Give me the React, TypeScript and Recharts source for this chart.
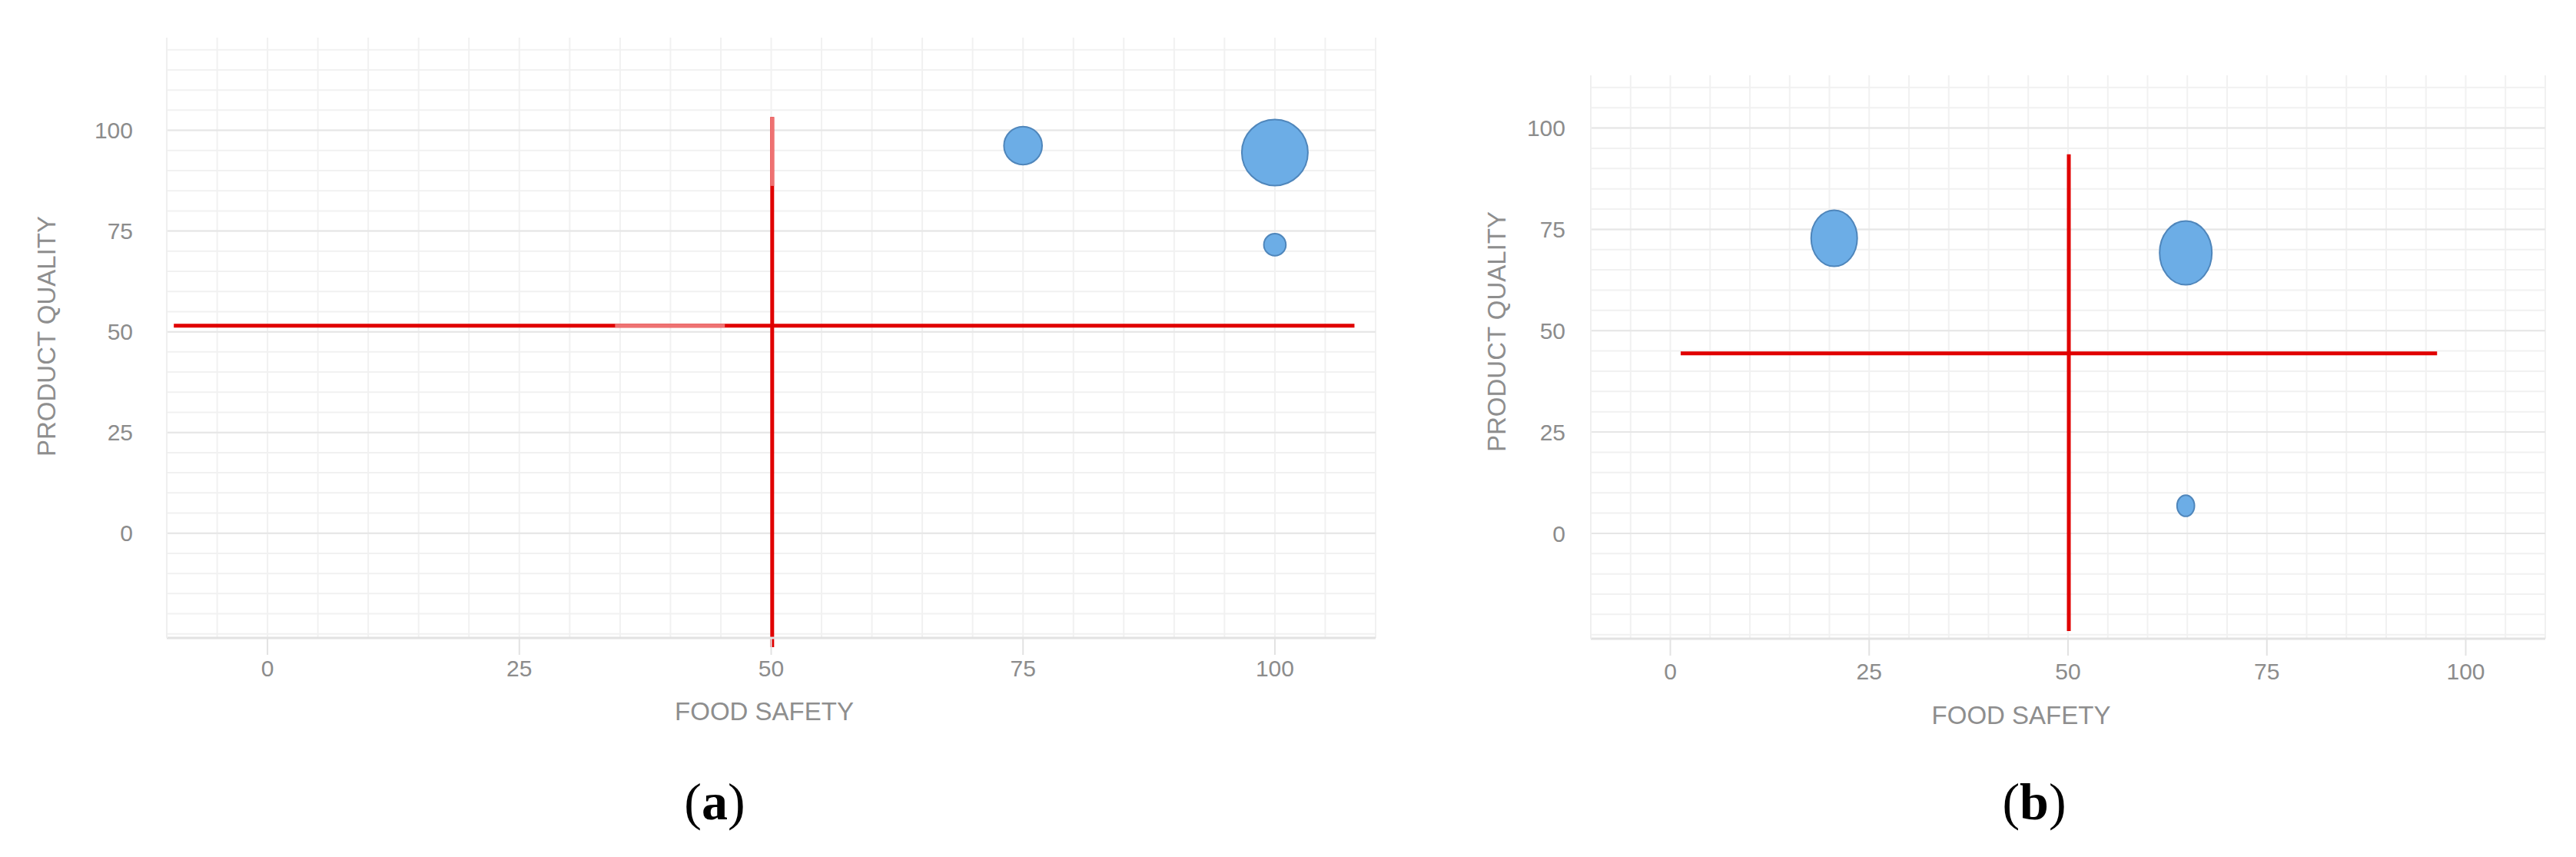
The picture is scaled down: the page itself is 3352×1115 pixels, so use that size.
import React from 'react';
import {
  ScatterChart, Scatter, XAxis, YAxis, ZAxis, CartesianGrid, ReferenceLine, Label,
} from 'recharts';

// ---------- data ----------
const xTicks = [0, 25, 50, 75, 100];
const yTicks = [0, 25, 50, 75, 100];
const xGridMinor = [-10, -5, 0, 5, 10, 15, 20, 25, 30, 35, 40, 45, 50, 55, 60, 65, 70, 75, 80, 85, 90, 95, 100, 105, 110];
const yGridMinorA = [-25, -20, -15, -10, -5, 0, 5, 10, 15, 20, 25, 30, 35, 40, 45, 50, 55, 60, 65, 70, 75, 80, 85, 90, 95, 100, 105, 110, 115, 120];
const yGridMinorB = [-25, -20, -15, -10, -5, 0, 5, 10, 15, 20, 25, 30, 35, 40, 45, 50, 55, 60, 65, 70, 75, 80, 85, 90, 95, 100, 105, 110];
const gridMajor = [0, 25, 50, 75, 100];

// panel (a)
const foodSafetyA = [75, 100, 100];
const qualityA = [96.2, 94.5, 71.6];
const sizeA = [3, 9, 1];
const yDomainA = [-26, 123];
// quadrant lines (a): [x cut, y cut], horizontal extent, vertical extent
const cutA = [50.1, 51.5];
const hSpanA = [-9.3, 107.9];
const vSpanA = [-28.3, 103.3];
const hLightA = [34.5, 45.4];
const vLightA = [86.2, 103.3];

// panel (b)
const foodSafetyB = [20.6, 64.8, 64.8];
const qualityB = [72.8, 69.2, 6.8];
const sizeB = [7, 9, 1];
const yDomainB = [-26, 113];
const cutB = [50.1, 44.4];
const hSpanB = [1.3, 96.4];
const vSpanB = [-24.1, 93.5];

const xDomain = [-10, 110];

const xTitle = 'FOOD SAFETY';
const yTitle = 'PRODUCT QUALITY';

// ---------- styles ----------
const FONT = 'Liberation Sans, Arial, sans-serif';
const TICK_COLOR = '#8c8c8c';
const TITLE_COLOR = '#8e8e8e';
const RED = '#e00000';
const LIGHT_RED = '#ee7272';
const BUBBLE_FILL = '#6cade6';
const BUBBLE_STROKE = '#4f86bb';

const makeBubble = (aspect: number) => (props: any) => {
  const { cx, cy } = props;
  const r = props.width ? props.width / 2 : Math.sqrt(Math.max(props.size || 0, 0) / Math.PI);
  return (
    <ellipse cx={cx} cy={cy} rx={r} ry={r * aspect} fill={BUBBLE_FILL} stroke={BUBBLE_STROKE} strokeWidth={2} />
  );
};

type PanelProps = {
  left: number;
  width: number;
  height: number;
  margin: { top: number; right: number; bottom: number; left: number };
  yAxisWidth: number;
  yTickMargin: number;
  xTickMargin: number;
  yDomain: number[];
  yGridMinor: number[];
  xs: number[];
  ys: number[];
  zs: number[];
  maxRadius: number;
  aspect: number;
  cut: number[];
  hSpan: number[];
  vSpan: number[];
  hLight?: number[];
  vLight?: number[];
  yTitleX: number;
  yTitleDy: number;
  xTitleDx: number;
  xTitleY: number;
};

function Panel(p: PanelProps) {
  const data = p.xs.map((x, i) => ({ x, y: p.ys[i], z: p.zs[i] }));
  return (
    <div style={{ position: 'absolute', left: p.left, top: 0 }}>
      <ScatterChart width={p.width} height={p.height} margin={p.margin}>
        <CartesianGrid
          horizontalValues={p.yGridMinor}
          verticalValues={xGridMinor}
          stroke="#f1f1f1"
          strokeWidth={2}
        />
        <CartesianGrid
          horizontalValues={gridMajor}
          verticalValues={gridMajor}
          stroke="#e6e6e6"
          strokeWidth={2}
          vertical={false}
        />
        <XAxis
          type="number"
          dataKey="x"
          domain={xDomain}
          ticks={xTicks}
          allowDataOverflow
          height={60}
          tickSize={22}
          tickMargin={p.xTickMargin}
          tickLine={{ stroke: '#e2e2e2', strokeWidth: 2 }}
          axisLine={{ stroke: '#e2e2e2', strokeWidth: 3 }}
          tick={{ fill: TICK_COLOR, fontSize: 30, fontFamily: FONT }}
        >
          <Label
            content={(lp: any) => {
              const vb = lp.viewBox;
              return (
                <text
                  x={vb.x + vb.width / 2 + p.xTitleDx}
                  y={p.xTitleY}
                  textAnchor="middle"
                  dominantBaseline="central"
                  fill={TITLE_COLOR}
                  fontSize={33}
                  fontFamily={FONT}
                >
                  {xTitle}
                </text>
              );
            }}
          />
        </XAxis>
        <YAxis
          type="number"
          dataKey="y"
          domain={p.yDomain}
          ticks={yTicks}
          allowDataOverflow
          width={p.yAxisWidth}
          tickSize={0}
          tickMargin={p.yTickMargin}
          tickLine={false}
          axisLine={{ stroke: '#efefef', strokeWidth: 2 }}
          tick={{ fill: TICK_COLOR, fontSize: 30, fontFamily: FONT }}
        >
          <Label
            content={(lp: any) => {
              const vb = lp.viewBox;
              const cx = p.yTitleX;
              const cy = vb.y + vb.height / 2 + p.yTitleDy;
              return (
                <text
                  x={cx}
                  y={cy}
                  transform={`rotate(-90, ${cx}, ${cy})`}
                  textAnchor="middle"
                  dominantBaseline="central"
                  fill={TITLE_COLOR}
                  fontSize={33}
                  fontFamily={FONT}
                >
                  {yTitle}
                </text>
              );
            }}
          />
        </YAxis>
        <ZAxis type="number" dataKey="z" domain={[0, 9]} range={[0, Math.PI * p.maxRadius * p.maxRadius]} />
        <ReferenceLine
          segment={[{ x: p.hSpan[0], y: p.cut[1] }, { x: p.hSpan[1], y: p.cut[1] }]}
          stroke={RED}
          strokeWidth={5}
          ifOverflow="visible"
        />
        <ReferenceLine
          segment={[{ x: p.cut[0], y: p.vSpan[0] }, { x: p.cut[0], y: p.vSpan[1] }]}
          stroke={RED}
          strokeWidth={5}
          ifOverflow="visible"
        />
        {p.hLight && (
          <ReferenceLine
            segment={[{ x: p.hLight[0], y: p.cut[1] }, { x: p.hLight[1], y: p.cut[1] }]}
            stroke={LIGHT_RED}
            strokeWidth={5}
            ifOverflow="visible"
          />
        )}
        {p.vLight && (
          <ReferenceLine
            segment={[{ x: p.cut[0], y: p.vLight[0] }, { x: p.cut[0], y: p.vLight[1] }]}
            stroke={LIGHT_RED}
            strokeWidth={5}
            ifOverflow="visible"
          />
        )}
        <Scatter data={data} shape={makeBubble(p.aspect)} isAnimationActive={false} />
      </ScatterChart>
    </div>
  );
}

function Caption({ x, letter }: { x: number; letter: string }) {
  return (
    <div
      style={{
        position: 'absolute',
        left: x,
        top: 1043,
        transform: 'translate(-50%, -50%)',
        fontFamily: 'Liberation Serif, Times New Roman, serif',
        fontSize: 68,
        color: '#000',
        lineHeight: 1,
        whiteSpace: 'nowrap',
      }}
    >
      (<b>{letter}</b>)
    </div>
  );
}

export default function App() {
  return (
    <div style={{ position: 'absolute', left: 0, top: 0, width: 3352, height: 1115, background: '#fff', overflow: 'hidden' }}>
      <Panel
        left={0}
        width={1860}
        height={1115}
        margin={{ top: 49, right: 70, bottom: 225, left: 20 }}
        yAxisWidth={197}
        yTickMargin={44}
        xTickMargin={7}
        yDomain={yDomainA}
        yGridMinor={yGridMinorA}
        xs={foodSafetyA}
        ys={qualityA}
        zs={sizeA}
        maxRadius={43}
        aspect={1}
        cut={cutA}
        hSpan={hSpanA}
        vSpan={vSpanA}
        hLight={hLightA}
        vLight={vLightA}
        yTitleX={60}
        yTitleDy={-2}
        xTitleDx={-9}
        xTitleY={925}
      />
      <Panel
        left={1860}
        width={1492}
        height={1115}
        margin={{ top: 98, right: 40, bottom: 224, left: 20 }}
        yAxisWidth={190}
        yTickMargin={33}
        xTickMargin={10}
        yDomain={yDomainB}
        yGridMinor={yGridMinorB}
        xs={foodSafetyB}
        ys={qualityB}
        zs={sizeB}
        maxRadius={34}
        aspect={1.22}
        cut={cutB}
        hSpan={hSpanB}
        vSpan={vSpanB}
        yTitleX={87}
        yTitleDy={-33}
        xTitleDx={-61}
        xTitleY={930}
      />
      <Caption x={930} letter="a" />
      <Caption x={2647} letter="b" />
    </div>
  );
}
